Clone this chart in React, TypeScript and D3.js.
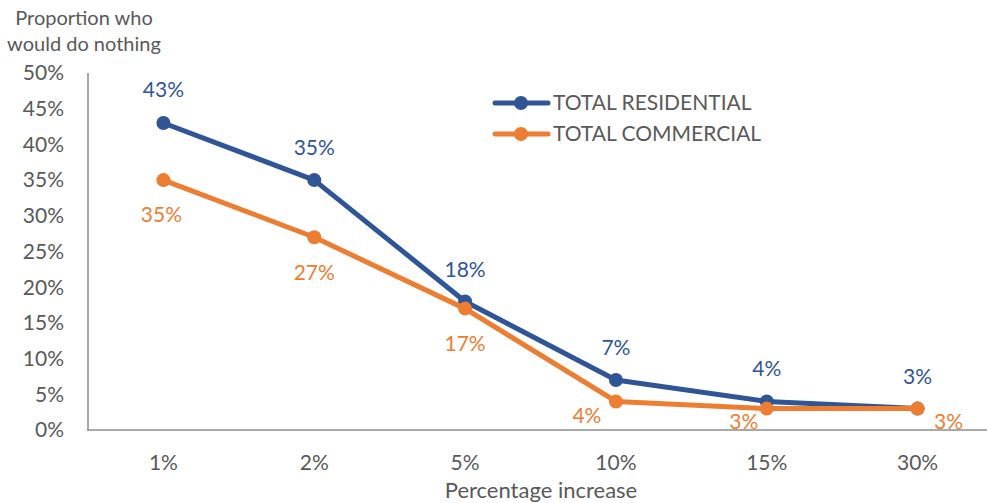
import React from "react";
import * as d3 from "d3";

const categories = ["1%", "2%", "5%", "10%", "15%", "30%"];
const residential = [43, 35, 18, 7, 4, 3];
const commercial = [35, 27, 17, 4, 3, 3];
const yTicks = [0, 5, 10, 15, 20, 25, 30, 35, 40, 45, 50];
const seriesNames = ["TOTAL RESIDENTIAL", "TOTAL COMMERCIAL"];

// label placement around each point: [dx, dy]
const residentialLabelOffsets: [number, number][] = [
  [0, -33], [0, -32], [0, -32], [0, -32], [0, -33], [0, -32],
];
const commercialLabelOffsets: [number, number][] = [
  [-2, 35], [0, 35], [0, 35], [-29, 14], [-23, 13], [31, 13],
];

const W = 987;
const H = 503;
const FONT = "Lato, 'Open Sans', sans-serif";
const TEXT = "#595959";
const BLUE = "#2F5597";
const ORANGE = "#ED7D31";

export default function App() {
  const x = d3.scalePoint<string>().domain(categories).range([88, 993]).padding(0.5);
  const y = d3.scaleLinear().domain([0, 50]).range([430, 73]);
  const line = d3
    .line<number>()
    .x((_, i) => x(categories[i])!)
    .y((d) => y(d));

  const series = [
    { name: seriesNames[0], values: residential, color: BLUE, offsets: residentialLabelOffsets },
    { name: seriesNames[1], values: commercial, color: ORANGE, offsets: commercialLabelOffsets },
  ];

  return (
    <svg
      width={W}
      height={H}
      style={{ position: "absolute", left: 0, top: 0, background: "#fff" }}
      fontFamily={FONT}
    >
      {/* axis title */}
      <text x={84} y={18} dy="0.35em" textAnchor="middle" fontSize={20} fill={TEXT}>
        Proportion who
      </text>
      <text x={84} y={44} dy="0.35em" textAnchor="middle" fontSize={20} fill={TEXT}>
        would do nothing
      </text>

      {/* y ticks */}
      {yTicks.map((t) => (
        <text key={t} x={64} y={y(t)} dy="0.35em" textAnchor="end" fontSize={21} fill={TEXT}>
          {t}%
        </text>
      ))}

      {/* axes */}
      <line x1={88} x2={88} y1={73} y2={430} stroke="#8c8c8c" strokeWidth={1.5} />
      <line x1={87} x2={W} y1={430} y2={430} stroke="#8c8c8c" strokeWidth={1.5} />

      {/* x ticks */}
      {categories.map((c) => (
        <text key={c} x={x(c)!} y={463} dy="0.35em" textAnchor="middle" fontSize={21} fill={TEXT}>
          {c}
        </text>
      ))}
      <text x={541} y={490} dy="0.35em" textAnchor="middle" fontSize={22} fill={TEXT}>
        Percentage increase
      </text>

      {/* series */}
      {series.map((s) => (
        <g key={s.name}>
          <path d={line(s.values)!} fill="none" stroke={s.color} strokeWidth={5} strokeLinejoin="round" />
          {s.values.map((v, i) => (
            <circle key={i} cx={x(categories[i])!} cy={y(v)} r={7} fill={s.color} />
          ))}
        </g>
      ))}
      {series.map((s) =>
        s.values.map((v, i) => (
          <text
            key={s.name + i}
            x={x(categories[i])! + s.offsets[i][0]}
            y={y(v) + s.offsets[i][1]}
            dy="0.35em"
            textAnchor="middle"
            fontSize={21}
            fill={s.color}
          >
            {v}%
          </text>
        ))
      )}

      {/* legend */}
      {series.map((s, i) => {
        const ly = 103 + i * 31;
        return (
          <g key={"lg" + s.name}>
            <line x1={495} x2={548} y1={ly} y2={ly} stroke={s.color} strokeWidth={5} strokeLinecap="round" />
            <circle cx={521} cy={ly} r={7} fill={s.color} />
            <text x={553} y={ly} dy="0.35em" fontSize={21} fill={TEXT}>
              {s.name}
            </text>
          </g>
        );
      })}
    </svg>
  );
}
